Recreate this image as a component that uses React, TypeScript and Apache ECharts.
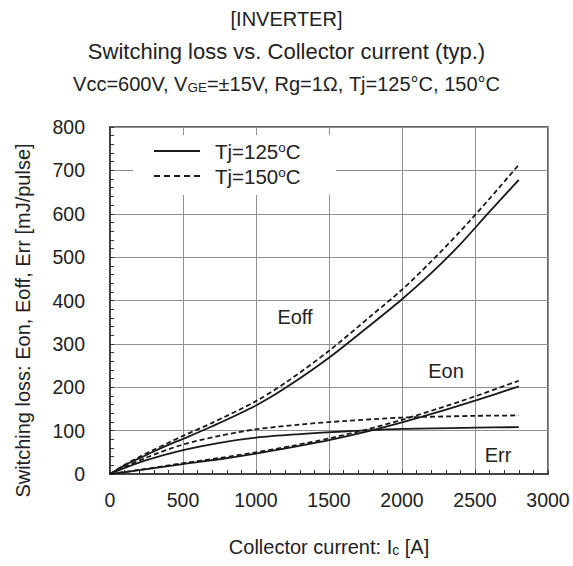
import React, { useEffect, useRef } from "react";
import * as echarts from "echarts";

// Collector current [A] sample points per curve family
const eoffCurrent = [0, 100, 200, 300, 400, 500, 700, 1000, 1200, 1500, 1800, 2000, 2200, 2400, 2600, 2800];
const eoff125 = [0, 20, 36, 52, 67, 81, 110, 158, 198, 268, 348, 403, 463, 530, 605, 678];
const eoff150 = [0, 21, 39, 56, 72, 88, 118, 168, 210, 284, 368, 425, 490, 560, 635, 713];

const eonCurrent = [0, 250, 500, 750, 1000, 1250, 1500, 1750, 2000, 2250, 2500, 2800];
const eon125 = [0, 11, 23, 34, 47, 62, 78, 97, 119, 143, 169, 202];
const eon150 = [0, 12, 25, 37, 50, 65, 82, 102, 125, 151, 179, 215];

const errCurrent = [0, 100, 250, 500, 750, 1000, 1300, 1600, 2000, 2500, 2800];
const err125 = [0, 14, 32, 55, 72, 84, 92, 98, 104, 107, 108];
const err150 = [0, 16, 38, 68, 88, 103, 114, 122, 130, 134, 135];

const xTicks = { min: 0, max: 3000, interval: 500 };
const yTicks = { min: 0, max: 800, interval: 100 };

const FONT = "Liberation Sans, Arial, sans-serif";
const INK = "#222";

const pairs = (xs: number[], ys: number[]) => xs.map((x, i) => [x, ys[i]]);

export default function App() {
  const ref = useRef<HTMLDivElement>(null);
  useEffect(() => {
    if (!ref.current) return;
    const chart = echarts.init(ref.current, undefined, { renderer: "svg" });
    const lineSeries = (name: string, xs: number[], ys: number[], dashed: boolean) => ({
      name,
      type: "line",
      data: pairs(xs, ys),
      smooth: 0.3,
      showSymbol: false,
      symbol: "none",
      lineStyle: { color: "#1a1a1a", width: 1.8, type: dashed ? [5, 3] : "solid" },
      z: 3,
    });
    const axisCommon = {
      type: "value",
      axisLine: { show: true, lineStyle: { color: "#333", width: 1.5 } },
      axisTick: { show: true, inside: true, length: 4, lineStyle: { color: "#333" } },
      minorTick: { show: true, splitNumber: 5, length: 4, lineStyle: { color: "#333" } },
      splitLine: { show: true, lineStyle: { color: "#909090", width: 1 } },
      axisLabel: { fontSize: 19.5, color: INK, fontFamily: FONT, formatter: (v: number) => String(v) },
      nameTextStyle: { fontSize: 20, color: INK, fontFamily: FONT },
    };
    chart.setOption({
      animation: false,
      backgroundColor: "#fff",
      textStyle: { fontFamily: FONT },
      title: [
        { text: "[INVERTER]", left: "center", top: 4, textStyle: { fontSize: 20, fontWeight: "normal", color: INK, fontFamily: FONT } },
        { text: "Switching loss vs. Collector current (typ.)", left: "center", top: 35, textStyle: { fontSize: 22, fontWeight: "normal", color: INK, fontFamily: FONT } },
        {
          text: "Vcc=600V, V{sub|GE}=±15V, Rg=1Ω, Tj=125°C, 150°C",
          left: "center",
          top: 69,
          textStyle: {
            fontSize: 20,
            fontWeight: "normal",
            color: INK,
            fontFamily: FONT,
            rich: { sub: { fontSize: 13.5, color: INK, fontFamily: FONT, verticalAlign: "bottom" } },
          },
        },
      ],
      grid: { left: 110, right: 25, top: 127, bottom: 92, show: true, borderColor: "#333", borderWidth: 1.5 },
      xAxis: {
        ...axisCommon,
        min: xTicks.min,
        max: xTicks.max,
        interval: xTicks.interval,
        axisLabel: { ...axisCommon.axisLabel, margin: 16 },
        name: "Collector current: I{sub|c} [A]",
        nameLocation: "middle",
        nameGap: 63,
        nameTextStyle: {
          ...axisCommon.nameTextStyle,
          rich: { sub: { fontSize: 14, color: INK, fontFamily: FONT, verticalAlign: "bottom" } },
        },
      },
      yAxis: {
        ...axisCommon,
        min: yTicks.min,
        max: yTicks.max,
        interval: yTicks.interval,
        axisLabel: { ...axisCommon.axisLabel, margin: 25 },
        name: "Switching loss: Eon, Eoff, Err [mJ/pulse]",
        nameLocation: "middle",
        nameGap: 77,
        nameTextStyle: { ...axisCommon.nameTextStyle, padding: [0, 40, 0, 0] },
      },
      series: [
        lineSeries("Eoff Tj=125°C", eoffCurrent, eoff125, false),
        lineSeries("Eoff Tj=150°C", eoffCurrent, eoff150, true),
        lineSeries("Eon Tj=125°C", eonCurrent, eon125, false),
        lineSeries("Eon Tj=150°C", eonCurrent, eon150, true),
        lineSeries("Err Tj=125°C", errCurrent, err125, false),
        lineSeries("Err Tj=150°C", errCurrent, err150, true),
      ],
      graphic: [
        { type: "rect", z: 1, shape: { x: 133, y: 135, width: 203, height: 60 }, style: { fill: "#fff" } },
        { type: "line", z: 2, shape: { x1: 154, y1: 151, x2: 200, y2: 151 }, style: { stroke: "#1a1a1a", lineWidth: 1.8 } },
        { type: "line", z: 2, shape: { x1: 154, y1: 176, x2: 200, y2: 176 }, style: { stroke: "#1a1a1a", lineWidth: 1.8, lineDash: [6, 4] } },
        {
          type: "text", z: 2, x: 215, y: 151,
          style: {
            text: "Tj=125{sup|o}C", fill: INK, font: `20.5px ${FONT}`, verticalAlign: "middle",
            rich: { sup: { fontSize: 13.5, fill: INK, fontFamily: FONT, verticalAlign: "top" } },
          },
        },
        {
          type: "text", z: 2, x: 215, y: 176,
          style: {
            text: "Tj=150{sup|o}C", fill: INK, font: `20.5px ${FONT}`, verticalAlign: "middle",
            rich: { sup: { fontSize: 13.5, fill: INK, fontFamily: FONT, verticalAlign: "top" } },
          },
        },
        { type: "text", z: 2, x: 295, y: 317, style: { text: "Eoff", fill: INK, font: `20px ${FONT}`, align: "center", verticalAlign: "middle" } },
        { type: "text", z: 2, x: 446, y: 371, style: { text: "Eon", fill: INK, font: `20px ${FONT}`, align: "center", verticalAlign: "middle" } },
        { type: "text", z: 2, x: 498, y: 455, style: { text: "Err", fill: INK, font: `20px ${FONT}`, align: "center", verticalAlign: "middle" } },
      ],
    });
    return () => chart.dispose();
  }, []);
  return <div ref={ref} style={{ position: "fixed", left: 0, top: 0, width: 573, height: 566 }} />;
}
